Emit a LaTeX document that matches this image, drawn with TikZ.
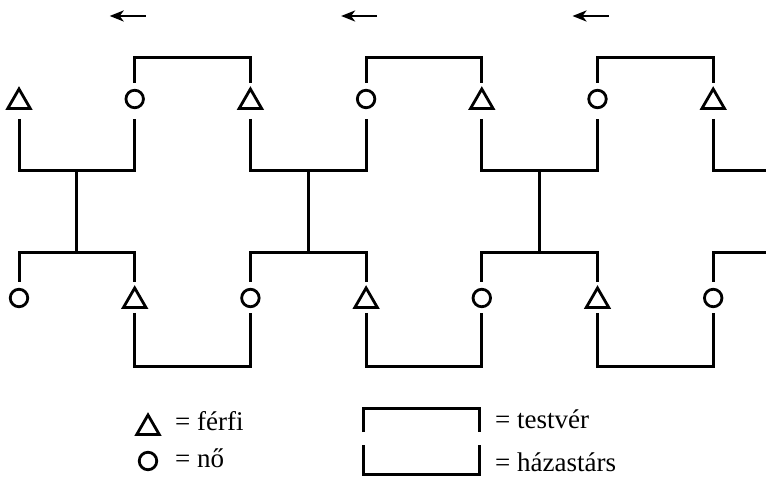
\documentclass[tikz,border=0pt]{standalone}
\usepackage{fontspec}
\setmainfont{Liberation Serif}
\usetikzlibrary{shapes.geometric, calc, arrows.meta}
\tikzset{
    kin/.style={line width=3pt},
    man/.style={draw, line width=2.8pt, regular polygon, regular polygon sides=3,
        minimum size=26pt, inner sep=0pt, yshift=-3pt},
    woman/.style={draw, line width=2.8pt, circle, minimum size=17.5pt, inner sep=0pt},
    move/.style={line width=2.4pt, -{Stealth[length=14pt, width=11pt, inset=4pt]}},
    legend/.style={anchor=base west, font=\fontsize{27}{31}\selectfont, inner sep=0pt},
}

\begin{document}
\begin{tikzpicture}[x=1pt, y=-1pt]
    \useasboundingbox (0,0) rectangle (766,478);
    % levels
    \coordinate (arr) at (0,16);
    \coordinate (sib) at (0,58);
    \coordinate (ta) at (0,83);
    \coordinate (tb) at (0,119);
    \coordinate (mt) at (0,171);
    \coordinate (bs) at (0,253);
    \coordinate (ba) at (0,282);
    \coordinate (bb) at (0,313);
    \coordinate (mb) at (0,367);
    \coordinate (edge) at (766,0);

    % persons
    \foreach \i in {0,...,6} {
        \pgfmathsetmacro{\x}{19+115.7*\i}
        \ifodd\i\relax
            \node[woman] (t\i) at (\x,99) {};
            \node[man] (b\i) at (\x,298) {};
        \else
            \node[man] (t\i) at (\x,99) {};
            \node[woman] (b\i) at (\x,298) {};
        \fi
    }

    % families
    \foreach \k in {0,1,2} {
        \pgfmathtruncatemacro{\i}{2*\k}
        \pgfmathtruncatemacro{\j}{2*\k+1}
        \pgfmathtruncatemacro{\n}{2*\k+2}
        \draw[kin] (t\i |- tb) |- (t\j |- mt) -- (t\j |- tb);
        \draw[kin] (b\i |- ba) |- (b\j |- bs) -- (b\j |- ba);
        \draw[kin] ($(t\i |- mt)!.5!(t\j |- mt)$) -- ($(b\i |- bs)!.5!(b\j |- bs)$);
        \draw[kin] (t\j |- ta) |- (t\n |- sib) -- (t\n |- ta);
        \draw[kin] (b\j |- bb) |- (b\n |- mb) -- (b\n |- bb);
        \draw[move] ($(t\j |- arr)+(11,0)$) -- ($(t\j |- arr)+(-25,0)$);
    }
    \draw[kin] (t6 |- tb) |- (edge |- mt);
    \draw[kin] (b6 |- ba) |- (edge |- bs);

    % legend
    \node[man] (lman) at (148,425) {};
    \node[woman] (lwoman) at (148,461) {};
    \node[legend] (lmant) at (175,430) {= férfi};
    \node[legend] (lwomant) at (175,467) {= nő};
    \node[legend] (lsibt) at (495,428) {= testvér};
    \node[legend] (lmart) at (495,471) {= házastárs};
    \draw[kin] (363,432) |- (479,408) -- (479,432);
    \draw[kin] (363,445) |- (479,474) -- (479,445);
\end{tikzpicture}
\end{document}
